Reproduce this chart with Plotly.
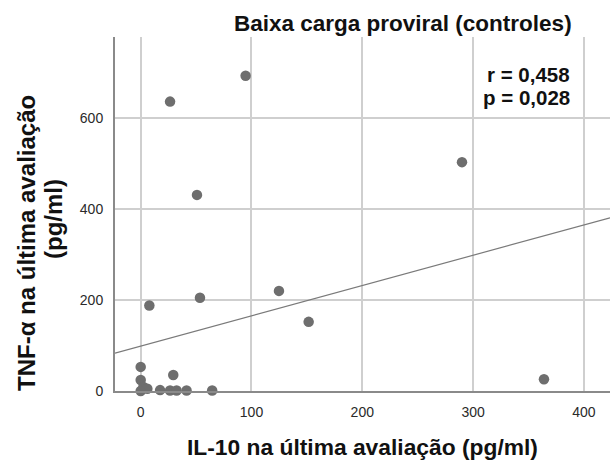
import plotly.graph_objects as go

# IL-10 (x) and TNF-alpha (y) at the last evaluation, pg/ml
il10 = [94.7, 26.5, 50.8, 290.0, 7.8, 53.5, 124.8, 151.6, 364.0,
        0.0, 0.0, 2.4, 6.0, 29.4, 0.0, 17.5, 26.5, 32.4, 41.4, 64.5]
tnf = [693, 636, 431, 503, 188, 205, 220, 152, 26,
       53, 24, 9, 5, 35, 0, 2, 1, 1, 1, 1]

# linear fit shown across the plot
fit_intercept = 98.8
fit_slope = 0.665

x_range = [-23.2, 423.6]
y_range = [0, 778]
x_ticks = [0, 100, 200, 300, 400]
y_ticks = [0, 200, 400, 600]

title_text = "Baixa carga proviral (controles)"
x_title = "IL-10 na última avaliação (pg/ml)"
y_title_lines = ["TNF-α na última avaliação", "(pg/ml)"]
stats_lines = ["r = 0,458", "p = 0,028"]

FONT = "Liberation Sans, Arial, sans-serif"
INK = "#111111"

# plot area in pixels: left 115, right 610, top 37, bottom 391
L, R, T, B = 115, 610, 37, 391


def px(x):
    return (x - L) / (R - L)


def py(y):
    return (B - y) / (B - T)


fig = go.Figure()

fit_x = x_range
fit_y = [fit_intercept + fit_slope * v for v in fit_x]
fig.add_trace(go.Scatter(
    x=fit_x, y=fit_y, mode="lines",
    line=dict(color="#7a7a7a", width=1.2),
    hoverinfo="skip", showlegend=False,
))

fig.add_trace(go.Scatter(
    x=il10, y=tnf, mode="markers",
    marker=dict(size=10.5, color="#6e6e6e", line=dict(width=0)),
    cliponaxis=False, showlegend=False,
))

annotations = [
    dict(text="<b>" + title_text + "</b>", x=px(403), y=py(24),
         xanchor="center", font=dict(size=22.5, color=INK)),
    dict(text="<b>" + stats_lines[0] + "</b>", x=px(572), y=py(74.5),
         xanchor="right", font=dict(size=20.5, color=INK)),
    dict(text="<b>" + stats_lines[1] + "</b>", x=px(572), y=py(97.5),
         xanchor="right", font=dict(size=20.5, color=INK)),
    dict(text="<b>" + x_title + "</b>", x=px(362), y=py(447),
         xanchor="center", font=dict(size=22.8, color=INK)),
    dict(text="<b>" + y_title_lines[0] + "</b>", x=px(26), y=py(243),
         xanchor="center", textangle=-90, font=dict(size=24, color=INK)),
    dict(text="<b>" + y_title_lines[1] + "</b>", x=px(53), y=py(219),
         xanchor="center", textangle=-90, font=dict(size=24, color=INK)),
]
for a in annotations:
    a.update(xref="paper", yref="paper", showarrow=False, yanchor="middle")

axis_style = dict(
    ticks="", showgrid=True, gridcolor="#cfcfcf", gridwidth=1.5,
    zeroline=False, showline=True, linecolor="#8a8a8a", linewidth=2,
    tickfont=dict(size=14, color="#2a2a2a"), ticklabelstandoff=7,
)

fig.update_layout(
    width=613, height=463,
    margin=dict(l=L, r=613 - R, t=T, b=463 - B),
    paper_bgcolor="white", plot_bgcolor="white",
    font=dict(family=FONT, size=14, color=INK),
    showlegend=False,
    xaxis=dict(range=x_range, tickvals=x_ticks, **axis_style),
    yaxis=dict(range=y_range, tickvals=y_ticks, **axis_style),
    annotations=annotations,
)

fig.write_html("out.html")
